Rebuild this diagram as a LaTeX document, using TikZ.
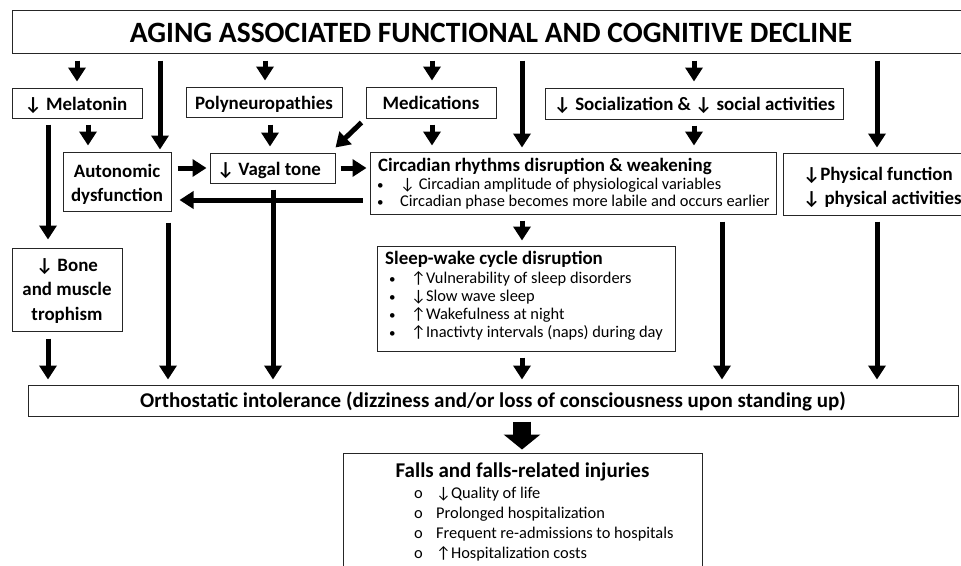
\documentclass[tikz,border=0pt]{standalone}
\usepackage{fontspec}
\setmainfont{Carlito}
\usetikzlibrary{arrows.meta,fit}
\newcommand\arrdn{↓}
\newcommand\arrup{↑}
\begin{document}
\begin{tikzpicture}[x=1pt,y=-1pt,
  box/.style={draw=black!85, line width=1pt, inner sep=0pt},
  bbig/.style={font=\bfseries\fontsize{29.5}{32}\selectfont},
  bmid/.style={font=\bfseries\fontsize{18.9}{24.5}\selectfont},
  reg/.style={font=\fontsize{16.4}{18}\selectfont},
  ctr/.style={inner sep=0pt, anchor=base, align=center},
  txt/.style={inner sep=0pt, anchor=base west},
  bul/.style={inner sep=0pt, anchor=base west, font=\fontsize{13}{14}\selectfont},
  arr/.style={line width=5pt, -{Triangle[width=17pt,length=14pt]}},
  blockarr/.style={line width=18pt, -{Triangle[width=36pt,length=15pt]}},
]
\useasboundingbox (0,0) rectangle (961,565);
% columns / rows
\foreach \xx in {48,77,88,160,168,265,270,273,432,522,694,722,877} {\coordinate (x\xx) at (\xx,0);}
\coordinate (y200) at (0,200);

% boxes
\node[box, fit={(12,10)(970,53)}] (top) {};
\node[box, fit={(12,88)(142,118)}] (mel) {};
\node[box, fit={(186,87)(342,117)}] (poly) {};
\node[box, fit={(366,87)(496,118)}] (med) {};
\node[box, fit={(545,88)(843,119)}] (soc) {};
\node[box, fit={(63,152)(171,211)}] (auto) {};
\node[box, fit={(210,153)(335,183)}] (vagal) {};
\node[box, fit={(370,152)(776,214)}] (circ) {};
\node[box, fit={(783,153)(975,215)}] (phys) {};
\node[box, fit={(12,248)(122,331)}] (bone) {};
\node[box, fit={(377,246)(675,351)}] (sleep) {};
\node[box, fit={(28,385)(958,416)}] (orth) {};
\node[box, fit={(343,453)(702,590)}] (falls) {};

% single-line and centred texts
\node[ctr, bbig] (topT) at (491,42) {AGING ASSOCIATED FUNCTIONAL AND COGNITIVE DECLINE};
\node[ctr, bmid] (melT) at (76,110) {\arrdn\ Melatonin};
\node[ctr, bmid] (polyT) at (264,109) {Polyneuropathies};
\node[ctr, bmid] (medT) at (431,109) {Medications};
\node[ctr, bmid] (socT) at (694.5,110) {\arrdn\ Socialization \& \arrdn\ social activities};
\node[ctr, bmid] (autoT1) at (117,177) {Autonomic};
\node[ctr, bmid] (autoT2) at (117,201.5) {dysfunction};
\node[ctr, bmid] (vagalT) at (269,175.5) {\arrdn\ Vagal tone};
\node[ctr, bmid] (boneT1) at (67,271) {\arrdn\ Bone};
\node[ctr, bmid] (boneT2) at (67,295.5) {and muscle};
\node[ctr, bmid] (boneT3) at (67,320) {trophism};
\node[ctr, font=\bfseries\fontsize{21}{24}\selectfont] (orthT) at (493,407.5) {Orthostatic intolerance (dizziness and/or loss of consciousness upon standing up)};
\node[ctr, font=\bfseries\fontsize{21}{24}\selectfont] (fallsT) at (522.5,477) {Falls and falls-related injuries};

% circadian box
\node[txt, bmid] (circT) at (378,171) {Circadian rhythms disruption \& weakening};
\node[bul] (circB1) at (377,189) {•};
\node[txt, reg] (circL1) at (400,189) {\arrdn\ Circadian amplitude of physiological variables};
\node[bul] (circB2) at (377,206) {•};
\node[txt, reg] (circL2) at (400,206) {Circadian phase becomes more labile and occurs earlier};

% physical box
\node[txt, bmid] (physL1) at (803,180) {\arrdn Physical function};
\node[txt, bmid] (physL2) at (803,204.5) {\arrdn\ physical activities};

% sleep box
\node[txt, bmid] (sleepT) at (385,264) {Sleep-wake cycle disruption};
\node[bul] (sB1) at (389,283) {•};
\node[txt, reg] (sL1) at (411,283) {\arrup Vulnerability of sleep disorders};
\node[bul] (sB2) at (389,301) {•};
\node[txt, reg] (sL2) at (411,301) {\arrdn Slow wave sleep};
\node[bul] (sB3) at (389,319) {•};
\node[txt, reg] (sL3) at (411,319) {\arrup Wakefulness at night};
\node[bul] (sB4) at (389,337) {•};
\node[txt, reg] (sL4) at (411,337) {\arrup Inactivty intervals (naps) during day};

% falls box
\node[txt, reg] (fB1) at (414,498) {o};
\node[txt, reg] (fL1) at (436,498) {\arrdn Quality of life};
\node[txt, reg] (fB2) at (414,518) {o};
\node[txt, reg] (fL2) at (436,518) {Prolonged hospitalization};
\node[txt, reg] (fB3) at (414,538) {o};
\node[txt, reg] (fL3) at (436,538) {Frequent re-admissions to hospitals};
\node[txt, reg] (fB4) at (414,558) {o};
\node[txt, reg] (fL4) at (436,558) {\arrup Hospitalization costs};

% arrows from top
\draw[arr, shorten <=7pt, shorten >=6pt] (top.south -| x77) -- (mel.north -| x77);
\draw[arr, shorten <=7pt, shorten >=2pt] (top.south -| x160) -- (auto.north -| x160);
\draw[arr, shorten <=7pt, shorten >=6pt] (top.south -| x265) -- (poly.north -| x265);
\draw[arr, shorten <=7pt, shorten >=6pt] (top.south -| x432) -- (med.north -| x432);
\draw[arr, shorten <=7pt, shorten >=4pt] (top.south -| x522) -- (circ.north -| x522);
\draw[arr, shorten <=7pt, shorten >=6pt] (top.south -| x694) -- (soc.north -| x694);
\draw[arr, shorten <=7pt, shorten >=5pt] (top.south -| x877) -- (phys.north -| x877);
% second row
\draw[arr, shorten <=6pt, shorten >=6pt] (mel.south -| x88) -- (auto.north -| x88);
\draw[arr, shorten <=6pt, shorten >=8pt] (mel.south -| x48) -- (bone.north -| x48);
\draw[arr, shorten <=7pt, shorten >=6pt] (poly.south -| x270) -- (vagal.north -| x270);
\draw[arr] ([shift={(-4,4)}]med.south west) -- ([shift={(0,-5)}]vagal.north east);
\draw[arr, shorten <=6pt, shorten >=6pt] (med.south -| x432) -- (circ.north -| x432);
\draw[arr, shorten <=6pt, shorten >=6pt] (soc.south -| x694) -- (circ.north -| x694);
% third row horizontals
\draw[arr, shorten <=6pt, shorten >=3pt] (auto.east |- vagal.west) -- (vagal.west);
\draw[arr, shorten <=5pt, shorten >=3pt] (vagal.east) -- (circ.west |- vagal.east);
\draw[arr, shorten <=7pt, shorten >=8pt] (circ.west |- y200) -- (auto.east |- y200);
\draw[arr, shorten <=6pt, shorten >=5pt] (circ.south -| x522) -- (sleep.north -| x522);
% down to orthostatic
\draw[arr, shorten <=7pt, shorten >=5pt] (bone.south -| x48) -- (orth.north -| x48);
\draw[arr, shorten <=11pt, shorten >=5pt] (auto.south -| x168) -- (orth.north -| x168);
\draw[arr, shorten <=6pt, shorten >=5pt] (vagal.south -| x273) -- (orth.north -| x273);
\draw[arr, shorten <=6pt, shorten >=5pt] (sleep.south -| x522) -- (orth.north -| x522);
\draw[arr, shorten <=7pt, shorten >=5pt] (circ.south -| x722) -- (orth.north -| x722);
\draw[arr, shorten <=6pt, shorten >=5pt] (phys.south -| x877) -- (orth.north -| x877);
% block arrow
\draw[blockarr, shorten <=5pt, shorten >=3pt] (orth.south -| x522) -- (falls.north -| x522);
\end{tikzpicture}
\end{document}
